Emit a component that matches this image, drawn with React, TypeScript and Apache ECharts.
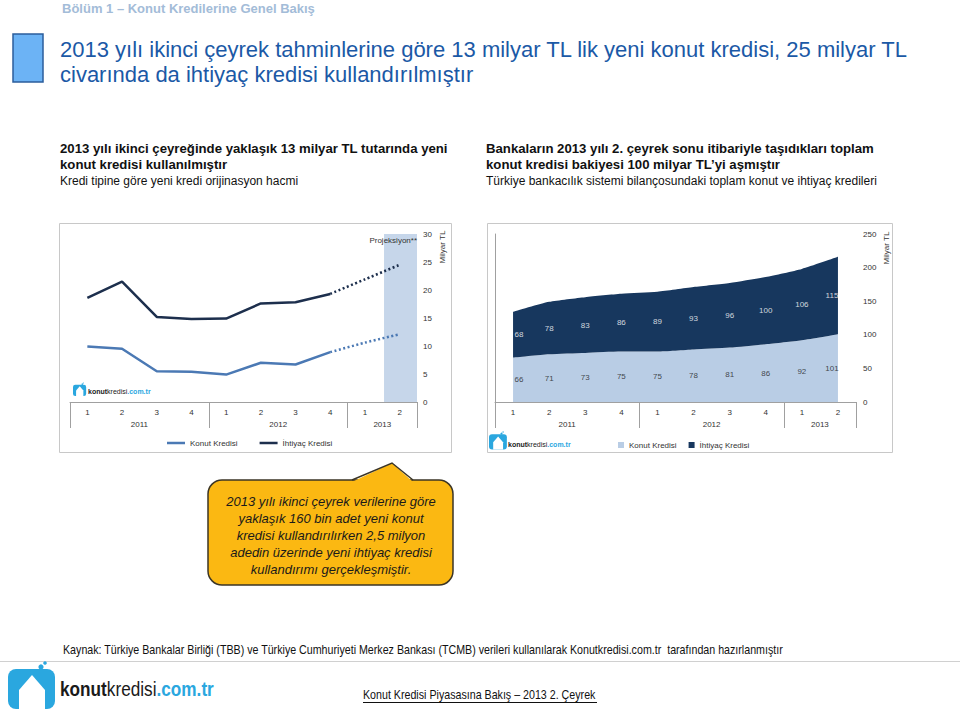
import React, { useEffect, useRef } from "react";
import * as echarts from "echarts";

// ---------- data ----------
const quarters = ["1", "2", "3", "4", "1", "2", "3", "4", "1", "2"];
const years = ["2011", "2012", "2013"];
const yearSpans = [4, 4, 2];

// Left chart: new loan origination (Milyar TL)
const konutNew = [9.9, 9.5, 5.5, 5.4, 4.9, 7.0, 6.7, 8.9, null, null];
const konutNewProj = [null, null, null, null, null, null, null, 8.9, 10.6, 12.1];
const ihtiyacNew = [18.6, 21.5, 15.2, 14.8, 14.9, 17.6, 17.8, 19.3, null, null];
const ihtiyacNewProj = [null, null, null, null, null, null, null, 19.3, 21.9, 24.5];
const projectionLabel = "Projeksiyon**";
const projectionRange = [9.05, 10];

// Right chart: outstanding balances (Milyar TL)
const konutStock = [66, 71, 73, 75, 75, 78, 81, 86, 92, 101];
const ihtiyacStock = [68, 78, 83, 86, 89, 93, 96, 100, 106, 115];

const seriesNames = ["Konut Kredisi", "İhtiyaç Kredisi"];
const unitLabel = "Milyar TL";

// ---------- styles ----------
const FONT = '"Liberation Sans", Arial, Helvetica, sans-serif';
const KONUT_LINE = "#4b79b4";
const IHT_LINE = "#1d2f4d";
const KONUT_AREA = "#b9cde5";
const IHT_AREA = "#17375e";
const LOGO_BLUE = "#2aa7df";
const AXIS_GRAY = "#a0a0a0";
const LABEL = "#333333";

const yearBounds: number[] = [0];
yearSpans.forEach((s) => yearBounds.push(yearBounds[yearBounds.length - 1] + s));
const yearCenters = yearSpans.map((s, i) => yearBounds[i] + s / 2);

function T(x: number, y: number, text: string, o: any = {}) {
  const { rotation, scaleX, ...st } = o;
  const align = st.align || "left";
  const va = st.verticalAlign || "middle";
  return {
    type: "text",
    x,
    y,
    rotation: rotation || 0,
    scaleX: scaleX || 1,
    style: {
      text,
      fontFamily: FONT,
      fontSize: 12,
      fill: "#000",
      ...st,
      align,
      textAlign: align,
      verticalAlign: va,
      textVerticalAlign: va,
    },
  };
}

function logo(x: number, y: number, s: number, tx: number, ty: number, fs: number, textScale: number) {
  return [
    {
      type: "group",
      x,
      y,
      scaleX: s,
      scaleY: s,
      children: [
        { type: "rect", shape: { x: 0, y: 6, width: 47, height: 40, r: 8 }, style: { fill: LOGO_BLUE } },
        {
          type: "polygon",
          shape: { points: [[11, 46], [11, 27], [24, 12], [37, 27], [37, 46]] },
          style: { fill: "#ffffff" },
        },
        { type: "circle", shape: { cx: 33, cy: 4, r: 2.6 }, style: { fill: LOGO_BLUE } },
        { type: "circle", shape: { cx: 37, cy: 0, r: 1.8 }, style: { fill: LOGO_BLUE } },
      ],
    },
    {
      type: "text",
      x: tx,
      y: ty,
      scaleX: textScale,
      style: {
        text: "{a|konut}{b|kredisi}{c|.com.tr}",
        verticalAlign: "middle",
        textVerticalAlign: "middle",
        rich: {
          a: { fontFamily: FONT, fontSize: fs, fontWeight: "bold", fill: "#1a1a1a", color: "#1a1a1a" },
          b: { fontFamily: FONT, fontSize: fs, fill: "#1a1a1a", color: "#1a1a1a" },
          c: { fontFamily: FONT, fontSize: fs, fontWeight: "bold", fill: LOGO_BLUE, color: LOGO_BLUE },
        },
      },
    },
  ];
}

function yearAxis(gridIndex: number) {
  return {
    type: "value",
    gridIndex,
    min: 0,
    max: quarters.length,
    position: "bottom",
    axisLine: { show: false },
    splitLine: { show: false },
    axisTick: { show: true, customValues: yearBounds, length: 26, lineStyle: { color: AXIS_GRAY } },
    axisLabel: {
      customValues: yearCenters,
      margin: 18,
      fontSize: 8,
      color: LABEL,
      fontFamily: FONT,
      formatter: (v: number) => {
        const i = yearCenters.indexOf(v);
        return i >= 0 ? years[i] : "";
      },
    },
  };
}

function quarterAxis(gridIndex: number) {
  return {
    type: "category",
    gridIndex,
    data: quarters,
    boundaryGap: true,
    axisLine: { show: true, lineStyle: { color: AXIS_GRAY } },
    axisTick: { show: false },
    axisLabel: { interval: 0, margin: 6, fontSize: 8, color: LABEL, fontFamily: FONT },
  };
}

export default function App() {
  const ref = useRef<HTMLDivElement>(null);
  useEffect(() => {
    if (!ref.current) return;
    const chart = echarts.init(ref.current, undefined, { renderer: "svg", width: 960, height: 712 });

    const calloutLines = [
      "2013 yılı ikinci çeyrek verilerine göre",
      "yaklaşık 160 bin adet yeni konut",
      "kredisi kullandırılırken 2,5 milyon",
      "adedin üzerinde yeni ihtiyaç kredisi",
      "kullandırımı gerçekleşmiştir.",
    ];

    const graphic: any[] = [
      // header
      T(62, 8, "Bölüm 1 – Konut Kredilerine Genel Bakış", { fontSize: 13, fontWeight: "bold", fill: "#a3bcd8" }),
      { type: "rect", shape: { x: 13, y: 34, width: 30, height: 48 }, style: { fill: "#6cb3f5", stroke: "#2b5d9c", lineWidth: 1.5 } },
      T(60, 49, "2013 yılı ikinci çeyrek tahminlerine göre 13 milyar TL lik yeni konut kredisi, 25 milyar TL", { fontSize: 22, fill: "#1b59a6" }),
      T(60, 74, "civarında da ihtiyaç kredisi kullandırılmıştır", { fontSize: 22, fill: "#1b59a6" }),
      // left heading
      T(60, 148, "2013 yılı ikinci çeyreğinde yaklaşık 13 milyar TL tutarında yeni", { fontSize: 13.2, fontWeight: "bold", fill: "#111" }),
      T(60, 164, "konut kredisi kullanılmıştır", { fontSize: 13.2, fontWeight: "bold", fill: "#111" }),
      T(60, 181, "Kredi tipine göre yeni kredi orijinasyon hacmi", { fontSize: 12, fill: "#111" }),
      // right heading
      T(486, 148, "Bankaların 2013 yılı 2. çeyrek sonu itibariyle taşıdıkları toplam", { fontSize: 13.2, fontWeight: "bold", fill: "#111" }),
      T(486, 164, "konut kredisi bakiyesi 100 milyar TL’yi aşmıştır", { fontSize: 13.2, fontWeight: "bold", fill: "#111" }),
      T(486, 181, "Türkiye bankacılık sistemi bilançosundaki toplam konut ve ihtiyaç kredileri", { fontSize: 12, fill: "#111" }),
      // chart boxes
      { type: "rect", shape: { x: 59.5, y: 223.5, width: 392, height: 229 }, style: { fill: "none", stroke: "#c8c8c8", lineWidth: 1 } },
      { type: "rect", shape: { x: 487.5, y: 223.5, width: 405, height: 229 }, style: { fill: "none", stroke: "#c8c8c8", lineWidth: 1 } },
      // unit labels
      T(442, 247, unitLabel, { fontSize: 8, fill: LABEL, align: "center", rotation: Math.PI / 2 }),
      T(886, 248, unitLabel, { fontSize: 8, fill: LABEL, align: "center", rotation: Math.PI / 2 }),
      // logos inside charts
      ...logo(73, 383, 0.28, 88, 391, 7, 1),
      ...logo(489, 432, 0.38, 508, 444, 7, 1),
      // callout
      { type: "rect", shape: { x: 208, y: 480, width: 245, height: 105, r: 14 }, style: { fill: "#fbb812", stroke: "#3b3526", lineWidth: 1.5 } },
      { type: "polygon", shape: { points: [[352, 482], [392, 463], [413, 482]] }, style: { fill: "#fbb812" } },
      { type: "polyline", shape: { points: [[352, 480], [392, 463], [413, 480]] }, style: { fill: "none", stroke: "#3b3526", lineWidth: 1.5 } },
      T(331, 535, calloutLines.join("\n"), { fontSize: 13, fontStyle: "italic", fill: "#1a1a1a", align: "center", lineHeight: 17 }),
      // footer
      T(63, 650, "Kaynak: Türkiye Bankalar Birliği (TBB) ve Türkiye Cumhuriyeti Merkez Bankası (TCMB) verileri kullanılarak Konutkredisi.com.tr  tarafından hazırlanmıştır", { fontSize: 12, fill: "#111", scaleX: 0.89 }),
      { type: "line", shape: { x1: 0, y1: 661.5, x2: 960, y2: 661.5 }, style: { stroke: "#d0d0d0", lineWidth: 1 } },
      ...logo(8, 663, 1, 60, 689, 20, 0.86),
      T(363, 695, "Konut Kredisi Piyasasına Bakış – 2013 2. Çeyrek", { fontSize: 12, fill: "#111", scaleX: 0.89 }),
      { type: "line", shape: { x1: 363, y1: 702.5, x2: 597, y2: 702.5 }, style: { stroke: "#111", lineWidth: 1 } },
    ];

    const labelStyle = (color: string) => ({
      show: true,
      position: "inside",
      fontSize: 8,
      fontFamily: FONT,
      color,
    });

    const option: any = {
      animation: false,
      textStyle: { fontFamily: FONT },
      grid: [
        { left: 70, top: 234, width: 347, height: 168 },
        { left: 495, top: 234, width: 361, height: 168 },
      ],
      xAxis: [quarterAxis(0), yearAxis(0), quarterAxis(1), yearAxis(1)],
      yAxis: [
        {
          type: "value",
          gridIndex: 0,
          position: "right",
          min: 0,
          max: 30,
          interval: 5,
          axisLine: { show: false },
          axisTick: { show: false },
          splitLine: { show: false },
          axisLabel: { margin: 6, fontSize: 8, color: LABEL, fontFamily: FONT },
        },
        {
          type: "value",
          gridIndex: 1,
          position: "right",
          min: 0,
          max: 250,
          interval: 50,
          axisLine: { show: true, lineStyle: { color: AXIS_GRAY } },
          axisTick: { show: false },
          splitLine: { show: false },
          axisLabel: { margin: 7, fontSize: 8, color: LABEL, fontFamily: FONT },
        },
      ],
      legend: [
        {
          left: 162,
          top: 434,
          icon: "rect",
          itemWidth: 18,
          itemHeight: 2.5,
          itemGap: 22,
          selectedMode: false,
          textStyle: { fontSize: 8, color: LABEL, fontFamily: FONT },
          data: [
            { name: seriesNames[0], itemStyle: { color: KONUT_LINE } },
            { name: seriesNames[1], itemStyle: { color: IHT_LINE } },
          ],
        },
        {
          left: 613,
          top: 436,
          icon: "rect",
          itemWidth: 6,
          itemHeight: 6,
          itemGap: 12,
          selectedMode: false,
          textStyle: { fontSize: 8, color: LABEL, fontFamily: FONT },
          data: [
            { name: seriesNames[0], itemStyle: { color: KONUT_AREA } },
            { name: seriesNames[1], itemStyle: { color: IHT_AREA } },
          ],
        },
      ],
      series: [
        {
          name: "proj",
          type: "line",
          xAxisIndex: 1,
          yAxisIndex: 0,
          data: [],
          z: 1,
          silent: true,
          markArea: {
            silent: true,
            itemStyle: { color: "#c6d6ea" },
            label: {
              show: true,
              position: "insideTopRight",
              distance: 2,
              fontSize: 8,
              color: LABEL,
              fontFamily: FONT,
              offset: [2, 0],
            },
            data: [[{ xAxis: projectionRange[0], yAxis: 30.3, name: projectionLabel }, { xAxis: projectionRange[1], yAxis: 0 }]],
          },
        },
        {
          name: seriesNames[0],
          type: "line",
          xAxisIndex: 0,
          yAxisIndex: 0,
          data: konutNew,
          symbol: "none",
          z: 3,
          lineStyle: { color: KONUT_LINE, width: 2.5 },
          itemStyle: { color: KONUT_LINE },
        },
        {
          name: seriesNames[0],
          type: "line",
          xAxisIndex: 0,
          yAxisIndex: 0,
          data: konutNewProj,
          symbol: "none",
          smooth: 0.3,
          z: 3,
          lineStyle: { color: KONUT_LINE, width: 2.5, type: [2, 2.5] },
          itemStyle: { color: KONUT_LINE },
        },
        {
          name: seriesNames[1],
          type: "line",
          xAxisIndex: 0,
          yAxisIndex: 0,
          data: ihtiyacNew,
          symbol: "none",
          z: 3,
          lineStyle: { color: IHT_LINE, width: 2.5 },
          itemStyle: { color: IHT_LINE },
        },
        {
          name: seriesNames[1],
          type: "line",
          xAxisIndex: 0,
          yAxisIndex: 0,
          data: ihtiyacNewProj,
          symbol: "none",
          smooth: 0.3,
          z: 3,
          lineStyle: { color: IHT_LINE, width: 2.5, type: [2, 2.5] },
          itemStyle: { color: IHT_LINE },
        },
        {
          name: seriesNames[0],
          type: "line",
          xAxisIndex: 2,
          yAxisIndex: 1,
          stack: "stock",
          data: konutStock,
          symbol: "none",
          smooth: 0.2,
          lineStyle: { width: 0, color: KONUT_AREA },
          itemStyle: { color: KONUT_AREA },
          areaStyle: { color: KONUT_AREA, opacity: 1 },
        },
        {
          name: seriesNames[1],
          type: "line",
          xAxisIndex: 2,
          yAxisIndex: 1,
          stack: "stock",
          data: ihtiyacStock,
          symbol: "none",
          smooth: 0.2,
          lineStyle: { width: 0, color: IHT_AREA },
          itemStyle: { color: IHT_AREA },
          areaStyle: { color: IHT_AREA, opacity: 1 },
        },
        {
          name: "lblK",
          type: "scatter",
          xAxisIndex: 2,
          yAxisIndex: 1,
          symbolSize: 0,
          z: 5,
          silent: true,
          data: konutStock.map((v, i) => ({
            value: v / 2,
            label: { offset: [i === 0 ? 6 : i === konutStock.length - 1 ? -6 : 0, 0] },
          })),
          label: { ...labelStyle("#222"), formatter: (p: any) => String(konutStock[p.dataIndex]) },
        },
        {
          name: "lblI",
          type: "scatter",
          xAxisIndex: 2,
          yAxisIndex: 1,
          symbolSize: 0,
          z: 5,
          silent: true,
          data: ihtiyacStock.map((v, i) => ({
            value: konutStock[i] + v / 2,
            label: { offset: [i === 0 ? 6 : i === ihtiyacStock.length - 1 ? -6 : 0, 0] },
          })),
          label: { ...labelStyle("#ffffff"), formatter: (p: any) => String(ihtiyacStock[p.dataIndex]) },
        },
      ],
      graphic,
    };

    chart.setOption(option);
    return () => chart.dispose();
  }, []);

  return (
    <div
      ref={ref}
      style={{ position: "absolute", left: 0, top: 0, width: 960, height: 712, background: "#ffffff" }}
    />
  );
}
